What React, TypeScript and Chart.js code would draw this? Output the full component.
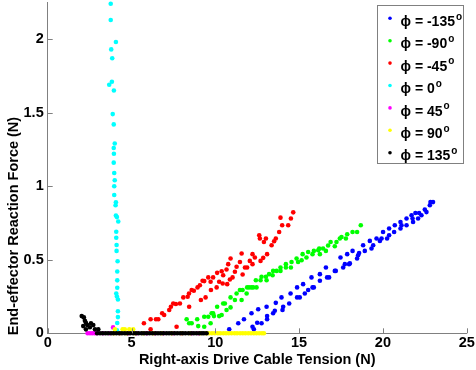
import React, { useEffect, useRef } from "react";
import { Chart, registerables } from "chart.js";

Chart.register(...registerables);

const FONT = '"Liberation Sans", Arial, Helvetica, sans-serif';

const xTitle = "Right-axis Drive Cable Tension (N)";
const yTitle = "End-effector Reaction Force (N)";
const legendLabels = ["ϕ = -135", "ϕ = -90", "ϕ = -45", "ϕ = 0", "ϕ = 45", "ϕ = 90", "ϕ = 135"];
const seriesColors = ["#0000ff", "#00ff00", "#ff0000", "#00ffff", "#ff00ff", "#ffff00", "#000000"];

// phi = -135
const blueX = [10.83, 11.37, 11.71, 12.16, 12.22, 12.3, 12.56, 12.5, 12.76, 13.06, 13.09, 13.09, 13.45, 13.55, 13.61, 13.95, 14.01, 14.05, 14.41, 14.49, 14.88, 14.88, 15.04, 15.24, 15.34, 15.54, 15.74, 15.8, 15.88, 16.24, 16.24, 16.6, 16.67, 16.79, 17.13, 17.19, 17.47, 17.63, 17.73, 17.87, 17.98, 18.03, 18.19, 18.46, 18.52, 18.58, 18.82, 18.92, 19.22, 19.32, 19.42, 19.62, 19.82, 19.92, 20.01, 20.25, 20.37, 20.37, 20.71, 20.67, 21.05, 21.05, 21.11, 21.41, 21.41, 21.71, 21.77, 21.8, 21.94, 22.1, 22.16, 22.3, 22.5, 22.6, 22.8, 22.84, 22.99];
const blueY = [0.027, 0.068, 0.095, 0.136, 0.045, 0.027, 0.163, 0.072, 0.068, 0.18, 0.117, 0.095, 0.136, 0.153, 0.207, 0.244, 0.158, 0.18, 0.203, 0.271, 0.312, 0.244, 0.244, 0.334, 0.271, 0.294, 0.38, 0.312, 0.312, 0.402, 0.357, 0.447, 0.38, 0.38, 0.424, 0.424, 0.515, 0.447, 0.47, 0.538, 0.47, 0.475, 0.56, 0.508, 0.531, 0.546, 0.599, 0.56, 0.628, 0.576, 0.599, 0.644, 0.628, 0.644, 0.689, 0.644, 0.666, 0.712, 0.734, 0.689, 0.757, 0.712, 0.734, 0.734, 0.78, 0.802, 0.78, 0.757, 0.818, 0.78, 0.818, 0.802, 0.841, 0.824, 0.87, 0.892, 0.892];

// phi = -90
const greenX = [8.29, 8.44, 8.59, 8.92, 8.98, 9.34, 9.34, 9.58, 9.72, 9.78, 9.87, 9.92, 10.11, 10.23, 10.38, 10.47, 10.57, 10.67, 10.91, 10.91, 11.17, 11.27, 11.47, 11.57, 11.63, 11.87, 11.9, 12.02, 12.16, 12.26, 12.42, 12.46, 12.7, 12.76, 13.02, 13.06, 13.21, 13.42, 13.45, 13.66, 13.89, 13.89, 14.21, 14.21, 14.51, 14.55, 14.85, 14.94, 15.15, 15.21, 15.44, 15.54, 15.8, 15.88, 16.14, 16.2, 16.24, 16.43, 16.6, 16.73, 16.88, 17.13, 17.23, 17.43, 17.53, 17.79, 17.87, 18.19, 18.46, 18.68];
const greenY = [0.095, 0.068, 0.068, 0.095, 0.049, 0.113, 0.045, 0.113, 0.068, 0.136, 0.136, 0.117, 0.18, 0.117, 0.124, 0.203, 0.203, 0.158, 0.244, 0.176, 0.226, 0.271, 0.294, 0.226, 0.294, 0.271, 0.312, 0.312, 0.312, 0.312, 0.361, 0.312, 0.361, 0.384, 0.384, 0.361, 0.402, 0.395, 0.424, 0.424, 0.424, 0.447, 0.47, 0.447, 0.447, 0.485, 0.508, 0.485, 0.497, 0.538, 0.515, 0.553, 0.538, 0.56, 0.565, 0.576, 0.538, 0.576, 0.56, 0.597, 0.621, 0.592, 0.621, 0.644, 0.655, 0.644, 0.673, 0.689, 0.689, 0.734];

// phi = -45
const redX = [5.74, 6.14, 6.14, 6.46, 6.6, 6.83, 6.95, 7.25, 7.35, 7.49, 7.65, 7.89, 7.69, 8.09, 8.35, 8.43, 8.59, 8.72, 8.44, 9.14, 9.42, 8.94, 9.08, 9.24, 9.34, 9.58, 9.72, 9.74, 9.87, 10.08, 10.11, 10.23, 10.38, 10.44, 10.47, 10.71, 10.67, 10.87, 10.77, 10.91, 11.03, 11.17, 11.27, 11.47, 11.57, 11.63, 11.77, 11.9, 12.06, 12.22, 12.22, 12.36, 12.62, 12.66, 12.7, 12.86, 12.9, 13.02, 13.09, 13.36, 13.51, 13.61, 13.81, 13.89, 13.99, 14.35, 14.51, 14.65];
const redY = [0.068, 0.095, 0.027, 0.095, 0.095, 0.136, 0.124, 0.158, 0.18, 0.203, 0.199, 0.203, 0.045, 0.244, 0.248, 0.271, 0.294, 0.289, 0.18, 0.226, 0.244, 0.312, 0.327, 0.357, 0.355, 0.38, 0.35, 0.294, 0.38, 0.312, 0.411, 0.35, 0.422, 0.339, 0.395, 0.334, 0.434, 0.366, 0.47, 0.508, 0.38, 0.418, 0.452, 0.485, 0.542, 0.4, 0.447, 0.447, 0.492, 0.538, 0.47, 0.515, 0.667, 0.644, 0.492, 0.513, 0.621, 0.644, 0.538, 0.599, 0.626, 0.644, 0.689, 0.786, 0.734, 0.734, 0.78, 0.822];

// phi = 0
const cyanX = [3.76, 3.76, 4.07, 3.79, 3.85, 3.83, 3.67, 3.95, 3.88, 3.94, 4.0, 3.94, 3.95, 3.94, 3.97, 4.0, 3.97, 3.97, 4.07, 4.05, 4.07, 4.13, 4.21, 4.09, 4.09, 4.11, 4.11, 4.17, 4.15, 4.15, 4.15, 4.09, 4.13, 4.19, 4.19, 4.19, 4.15, 4.13];
const cyanY = [2.24, 2.13, 1.98, 1.93, 1.87, 1.71, 1.69, 1.65, 1.49, 1.42, 1.29, 1.26, 1.22, 1.16, 1.09, 1.04, 1.0, 0.94, 0.89, 0.87, 0.8, 0.79, 0.76, 0.69, 0.65, 0.6, 0.56, 0.49, 0.42, 0.36, 0.31, 0.27, 0.25, 0.23, 0.15, 0.11, 0.07, 0.02];

// phi = 45
const magentaX = [2.38, 2.52, 2.66, 2.8, 2.93, 3.9, 3.3, 3.7, 4.3, 4.8, 5.3, 5.9, 6.4, 6.9, 7.5, 8.0, 8.6, 9.0];
const magentaY = [0, 0, 0, 0, 0, 0.04, 0, 0, 0, 0, 0, 0, 0, 0, 0, 0, 0, 0];

// phi = 90
const yellowX = [4.01, 4.47, 4.6, 4.87, 5.1, 3.95, 4.3, 4.7, 5.2, 5.7, 6.3, 6.8, 7.4, 8.0, 8.5, 9.1, 9.45, 9.62, 9.8, 9.97, 10.15, 10.3, 10.48, 10.64, 10.8, 10.97, 11.15, 11.3, 11.48, 11.64, 11.8, 11.97, 12.13, 12.3, 12.46, 12.62, 12.78, 12.9];
const yellowY = [0.027, 0.027, 0.027, 0.027, 0.027, 0, 0, 0, 0, 0, 0, 0, 0, 0, 0, 0, 0, 0, 0, 0, 0, 0, 0, 0, 0, 0, 0, 0, 0, 0, 0, 0, 0, 0, 0, 0, 0, 0];

// phi = 135
const blackX = [2.03, 2.16, 2.22, 2.28, 2.36, 2.58, 2.72, 2.52, 2.82, 3.02, 2.12, 2.28, 2.95, 3.12, 3.28, 3.45, 3.6, 3.78, 3.93, 4.1, 4.27, 4.43, 4.6, 4.76, 4.92, 5.1, 5.26, 5.42, 5.6, 5.75, 5.92, 6.08, 6.25, 6.42, 6.58, 6.74, 6.9, 7.08, 7.24, 7.4, 7.57, 7.73, 7.9, 8.06, 8.22, 8.4, 8.56, 8.72, 8.88, 9.05, 9.2, 9.32, 9.48];
const blackY = [0.117, 0.108, 0.085, 0.072, 0.056, 0.068, 0.056, 0.041, 0.027, 0.027, 0.049, 0.027, 0, 0, 0, 0, 0, 0, 0, 0, 0, 0, 0, 0, 0, 0, 0, 0, 0, 0, 0, 0, 0, 0, 0, 0, 0, 0, 0, 0, 0, 0, 0, 0, 0, 0, 0, 0, 0, 0, 0, 0, 0];

const seriesX = [blueX, greenX, redX, cyanX, magentaX, yellowX, blackX];
const seriesY = [blueY, greenY, redY, cyanY, magentaY, yellowY, blackY];

const AXIS_COLOR = "#808080";

const decorPlugin = {
  id: "decor",
  afterDraw(chart: any) {
    const ctx = chart.ctx as CanvasRenderingContext2D;
    const xs = chart.scales.x;
    const ys = chart.scales.y;
    const area = chart.chartArea;
    ctx.save();
    // inward tick marks
    ctx.strokeStyle = AXIS_COLOR;
    ctx.lineWidth = 1;
    ctx.beginPath();
    xs.ticks.forEach((t: any) => {
      const px = Math.round(xs.getPixelForValue(t.value)) + 0.5;
      ctx.moveTo(px, area.bottom);
      ctx.lineTo(px, area.bottom - 5);
    });
    ys.ticks.forEach((t: any) => {
      const py = Math.round(ys.getPixelForValue(t.value)) + 0.5;
      ctx.moveTo(area.left, py);
      ctx.lineTo(area.left + 5, py);
    });
    ctx.stroke();

    // axis titles
    ctx.fillStyle = "#000";
    ctx.font = `bold 14.5px ${FONT}`;
    ctx.textAlign = "center";
    ctx.textBaseline = "alphabetic";
    ctx.fillText(xTitle, (area.left + area.right) / 2, 364);
    ctx.save();
    ctx.translate(18, 226);
    ctx.rotate(-Math.PI / 2);
    ctx.fillText(yTitle, 0, 0);
    ctx.restore();

    // legend box
    const bx = 377.5, by = 5.5, bw = 86, bh = 158;
    ctx.fillStyle = "#ffffff";
    ctx.fillRect(bx, by, bw, bh);
    ctx.strokeStyle = AXIS_COLOR;
    ctx.strokeRect(bx, by, bw, bh);
    legendLabels.forEach((lab, i) => {
      const my = 18.3 + i * 22.4;
      ctx.fillStyle = seriesColors[i];
      ctx.beginPath();
      ctx.arc(390, my, 1.8, 0, Math.PI * 2);
      ctx.fill();
      ctx.fillStyle = "#000";
      ctx.textAlign = "left";
      ctx.font = `bold 14px ${FONT}`;
      const base = 26 + i * 22.4;
      ctx.fillText(lab, 400.5, base);
      const w = ctx.measureText(lab).width;
      ctx.font = `bold 10px ${FONT}`;
      ctx.fillText("o", 400.5 + w + 1, base - 6.5);
    });
    ctx.restore();
  },
};

export default function App() {
  const ref = useRef<HTMLCanvasElement | null>(null);
  useEffect(() => {
    document.body.style.margin = "0";
    const canvas = ref.current;
    if (!canvas) return;
    const datasets = seriesX.map((xsArr, k) => ({
      label: legendLabels[k],
      data: xsArr.map((x, i) => ({ x, y: seriesY[k][i] })),
      backgroundColor: seriesColors[k],
      borderColor: seriesColors[k],
      pointRadius: 2.3,
      pointBorderWidth: 0,
      pointHoverRadius: 2.3,
      order: 7 - k,
      clip: false as any,
    }));
    const tickFont = { family: FONT, size: 14.5, weight: "bold" as const };
    const fmt = (v: any) => String(Number(v));
    const chart = new Chart(canvas, {
      type: "scatter",
      data: { datasets },
      options: {
        responsive: false,
        animation: false,
        devicePixelRatio: 1,
        layout: { padding: { left: 0, right: 9.3, top: 1.4, bottom: 0 } },
        plugins: { legend: { display: false }, tooltip: { enabled: false } },
        scales: {
          x: {
            type: "linear",
            min: 0,
            max: 25,
            ticks: { stepSize: 5, font: tickFont, color: "#000", padding: 1, maxRotation: 0, includeBounds: false, callback: fmt },
            grid: { display: true, drawOnChartArea: false, drawTicks: false, color: AXIS_COLOR },
            border: { display: true, color: AXIS_COLOR, width: 1 },
            afterFit: (s: any) => { s.height = 36.7; s.paddingLeft = 0; s.paddingRight = 0; },
          },
          y: {
            type: "linear",
            min: 0,
            max: 2.25,
            ticks: { stepSize: 0.5, font: tickFont, color: "#000", padding: 4, includeBounds: false, callback: fmt },
            grid: { display: true, drawOnChartArea: false, drawTicks: false, color: AXIS_COLOR },
            border: { display: true, color: AXIS_COLOR, width: 1 },
            afterFit: (s: any) => { s.width = 47.7; s.paddingTop = 0; s.paddingBottom = 0; },
          },
        },
      },
      plugins: [decorPlugin],
    });
    return () => chart.destroy();
  }, []);
  return (
    <div style={{ width: 476, height: 370 }}>
      <canvas ref={ref} width={476} height={370} style={{ display: "block" }} />
    </div>
  );
}
